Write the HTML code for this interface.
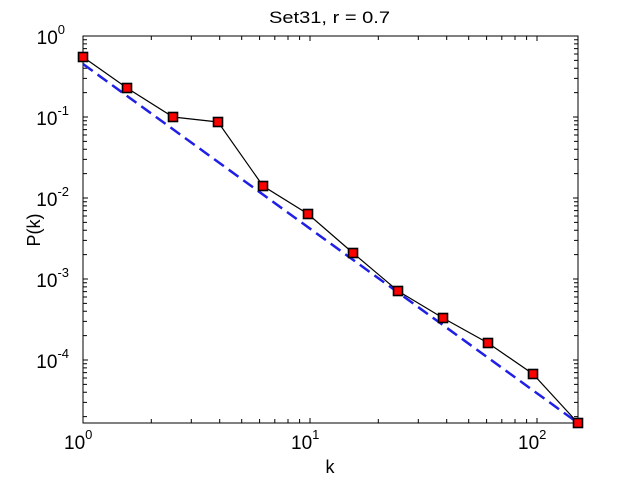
<!DOCTYPE html>
<html><head><style>body{margin:0;background:#fff}svg{display:block}text{font-family:"Liberation Sans",sans-serif;fill:#000}</style></head>
<body>
<svg width="640" height="480" viewBox="0 0 640 480" xmlns="http://www.w3.org/2000/svg">
<rect width="640" height="480" fill="#fff"/>
<rect x="83" y="36" width="495" height="387" fill="#fff" stroke="#000" stroke-width="1"/>
<g stroke="#000" stroke-width="1" fill="none">
<path id="yt" d="M83,36h5M83,117h5M83,198h5M83,279h5M83,360h5
M83,92.6h4M83,78.4h4M83,68.2h4M83,60.4h4M83,54h4M83,48.6h4M83,43.9h4M83,39.7h4
M83,173.6h4M83,159.4h4M83,149.2h4M83,141.4h4M83,135h4M83,129.6h4M83,124.9h4M83,120.7h4
M83,254.6h4M83,240.4h4M83,230.2h4M83,222.4h4M83,216h4M83,210.6h4M83,205.9h4M83,201.7h4
M83,335.6h4M83,321.4h4M83,311.2h4M83,303.4h4M83,297h4M83,291.6h4M83,286.9h4M83,282.7h4
M83,416.6h4M83,402.4h4M83,392.2h4M83,384.4h4M83,378h4M83,372.6h4M83,367.9h4M83,363.7h4"/>
<use href="#yt" transform="translate(661,0) scale(-1,1)"/>
<path id="xt" d="M310,423v-5M537,423v-5
M151.3,423v-4M191.3,423v-4M219.7,423v-4M241.7,423v-4M259.6,423v-4M274.8,423v-4M288,423v-4M299.6,423v-4
M378.3,423v-4M418.3,423v-4M446.7,423v-4M468.7,423v-4M486.6,423v-4M501.8,423v-4M515,423v-4M526.6,423v-4"/>
<use href="#xt" transform="translate(0,459) scale(1,-1)"/>
</g>
<line x1="83" y1="64" x2="578" y2="423" stroke="#1f1fe6" stroke-width="2.5" stroke-dasharray="12,6"/>
<polyline fill="none" stroke="#000" stroke-width="1.2" points="83,57 127,88 173,117 218,122 263,186 308,214 353,253 398,291 443,318 488,343 533,374 578,423"/>
<g fill="#f00" stroke="#000" stroke-width="1.6">
<rect x="78.5" y="52.5" width="9" height="9"/><rect x="122.5" y="83.5" width="9" height="9"/><rect x="168.5" y="112.5" width="9" height="9"/><rect x="213.5" y="117.5" width="9" height="9"/><rect x="258.5" y="181.5" width="9" height="9"/><rect x="303.5" y="209.5" width="9" height="9"/><rect x="348.5" y="248.5" width="9" height="9"/><rect x="393.5" y="286.5" width="9" height="9"/><rect x="438.5" y="313.5" width="9" height="9"/><rect x="483.5" y="338.5" width="9" height="9"/><rect x="528.5" y="369.5" width="9" height="9"/><rect x="573.5" y="418.5" width="9" height="9"/>
</g>
<text x="269" y="23" font-size="17" textLength="121" lengthAdjust="spacingAndGlyphs">Set31, r = 0.7</text>
<g font-size="19" text-anchor="end">
<text x="65" y="44">10<tspan font-size="13" dy="-10">0</tspan></text>
<text x="69" y="125">10<tspan font-size="13" dy="-10">-1</tspan></text>
<text x="69" y="206">10<tspan font-size="13" dy="-10">-2</tspan></text>
<text x="69" y="287">10<tspan font-size="13" dy="-10">-3</tspan></text>
<text x="69" y="368">10<tspan font-size="13" dy="-10">-4</tspan></text>
</g>
<g font-size="19">
<text x="64" y="449">10<tspan font-size="13" dy="-10">0</tspan></text>
<text x="291" y="449">10<tspan font-size="13" dy="-10">1</tspan></text>
<text x="518" y="449">10<tspan font-size="13" dy="-10">2</tspan></text>
</g>
<text x="330" y="473" font-size="18" text-anchor="middle">k</text>
<text transform="translate(40,230) rotate(-90)" font-size="18" text-anchor="middle">P(k)</text>
</svg>
</body></html>
